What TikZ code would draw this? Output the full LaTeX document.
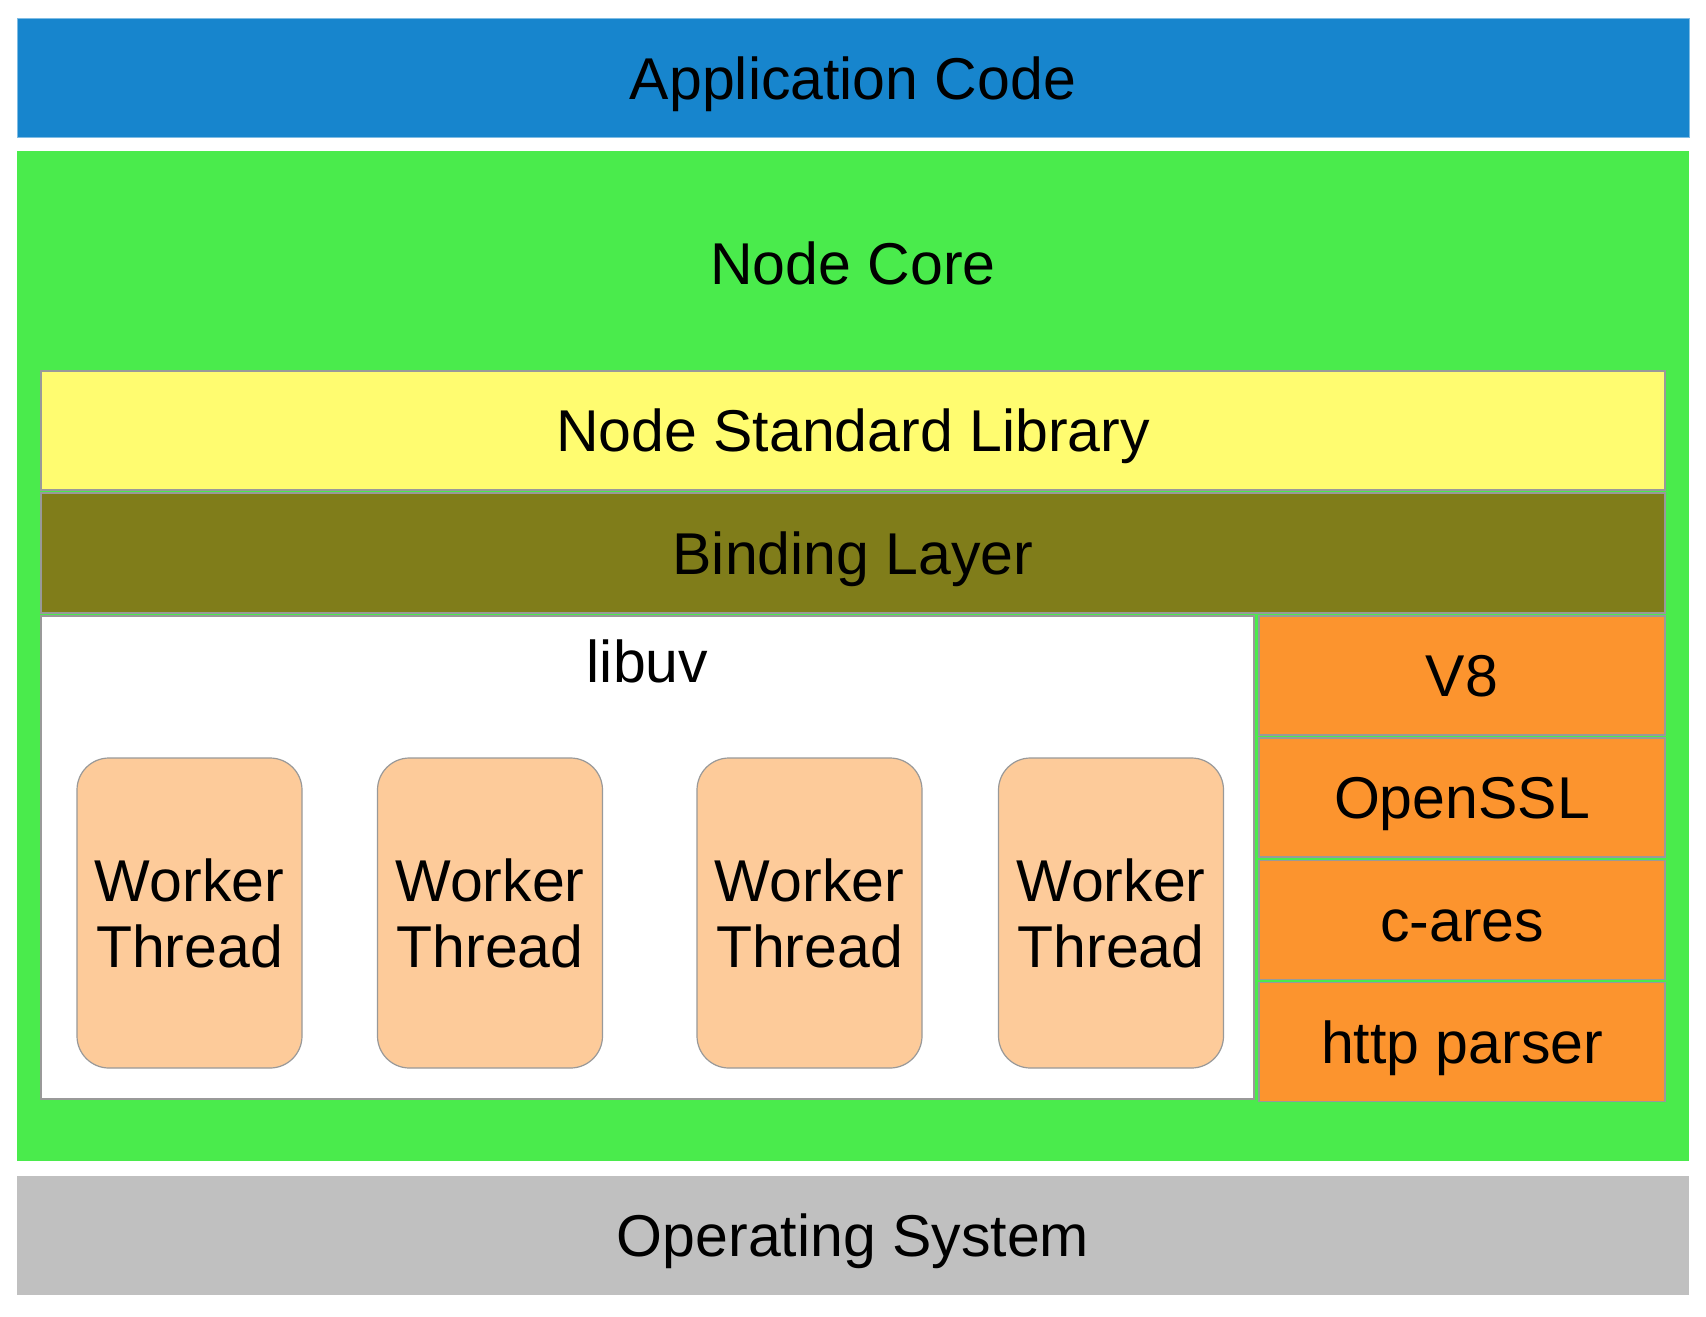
\documentclass[tikz,border=0pt]{standalone}
\usepackage{fontspec}
\setmainfont{Liberation Sans}
\usepackage{tikz}
\usetikzlibrary{positioning}
\definecolor{appB}{RGB}{23,133,205}
\definecolor{coreG}{RGB}{74,235,76}
\definecolor{libY}{RGB}{255,252,112}
\definecolor{bindO}{RGB}{128,125,26}
\definecolor{depO}{RGB}{252,148,46}
\definecolor{thrP}{RGB}{253,203,154}
\definecolor{osG}{RGB}{192,192,192}
\tikzset{
  layer/.style={rectangle, inner sep=0pt, text height=21pt, text depth=0pt,
    font=\fontsize{29.5}{33}\selectfont},
  flat/.style={layer, draw=none},
  boxed/.style={layer, draw=black!40, line width=0.6pt},
  worker/.style={rectangle, draw=black!40, line width=0.6pt, fill=thrP,
    rounded corners=16pt, align=center, inner sep=0pt,
    minimum width=112.5pt, minimum height=155pt,
    font=\fontsize{29.5}{33}\selectfont}
}

\begin{document}
\begin{tikzpicture}[x=0.5pt, y=-0.5pt]
\useasboundingbox (0,0) rectangle (1706,1316);
% application layer
\node[flat, fill=appB, draw=appB!55!white, line width=0.5pt,
  minimum width=836pt, minimum height=59.5pt] (app) at (853,78.5) {Application Code};
% node core background
\node[flat, fill=coreG, minimum width=836pt, minimum height=505pt] (core) at (853,656) {};
\node[layer] (coretitle) at (853,264) {Node Core};
% stdlib and bindings
\node[boxed, fill=libY, minimum width=812pt, minimum height=59.5pt] (stdlib) at (853,430.5) {Node Standard Library};
\node[boxed, fill=bindO, minimum width=812pt, minimum height=60pt] (binding) at (853,553) {Binding Layer};
% libuv with its thread pool
\node[boxed, fill=white, minimum width=606.5pt, minimum height=241.5pt] (libuv) at (647.5,857.5) {};
\node[layer, anchor=base] (libuvtitle) at (647.5,682) {libuv};
\foreach \wx [count=\i] in {189.5,490,809.5,1111}
  \node[worker] (w\i) at (\wx,913) {Worker\\Thread};
% bundled dependencies
\foreach \nm/\yc/\lbl in {v8/675.5/V8, ssl/797.5/OpenSSL, cares/920/c-ares, http/1042/http parser}
  \node[boxed, fill=depO, minimum width=203pt, minimum height=59.5pt] (\nm) at (1462,\yc) {\lbl};
% operating system
\node[flat, fill=osG, minimum width=836pt, minimum height=59.5pt] (os) at (853,1235.5) {Operating System};
\end{tikzpicture}
\end{document}
